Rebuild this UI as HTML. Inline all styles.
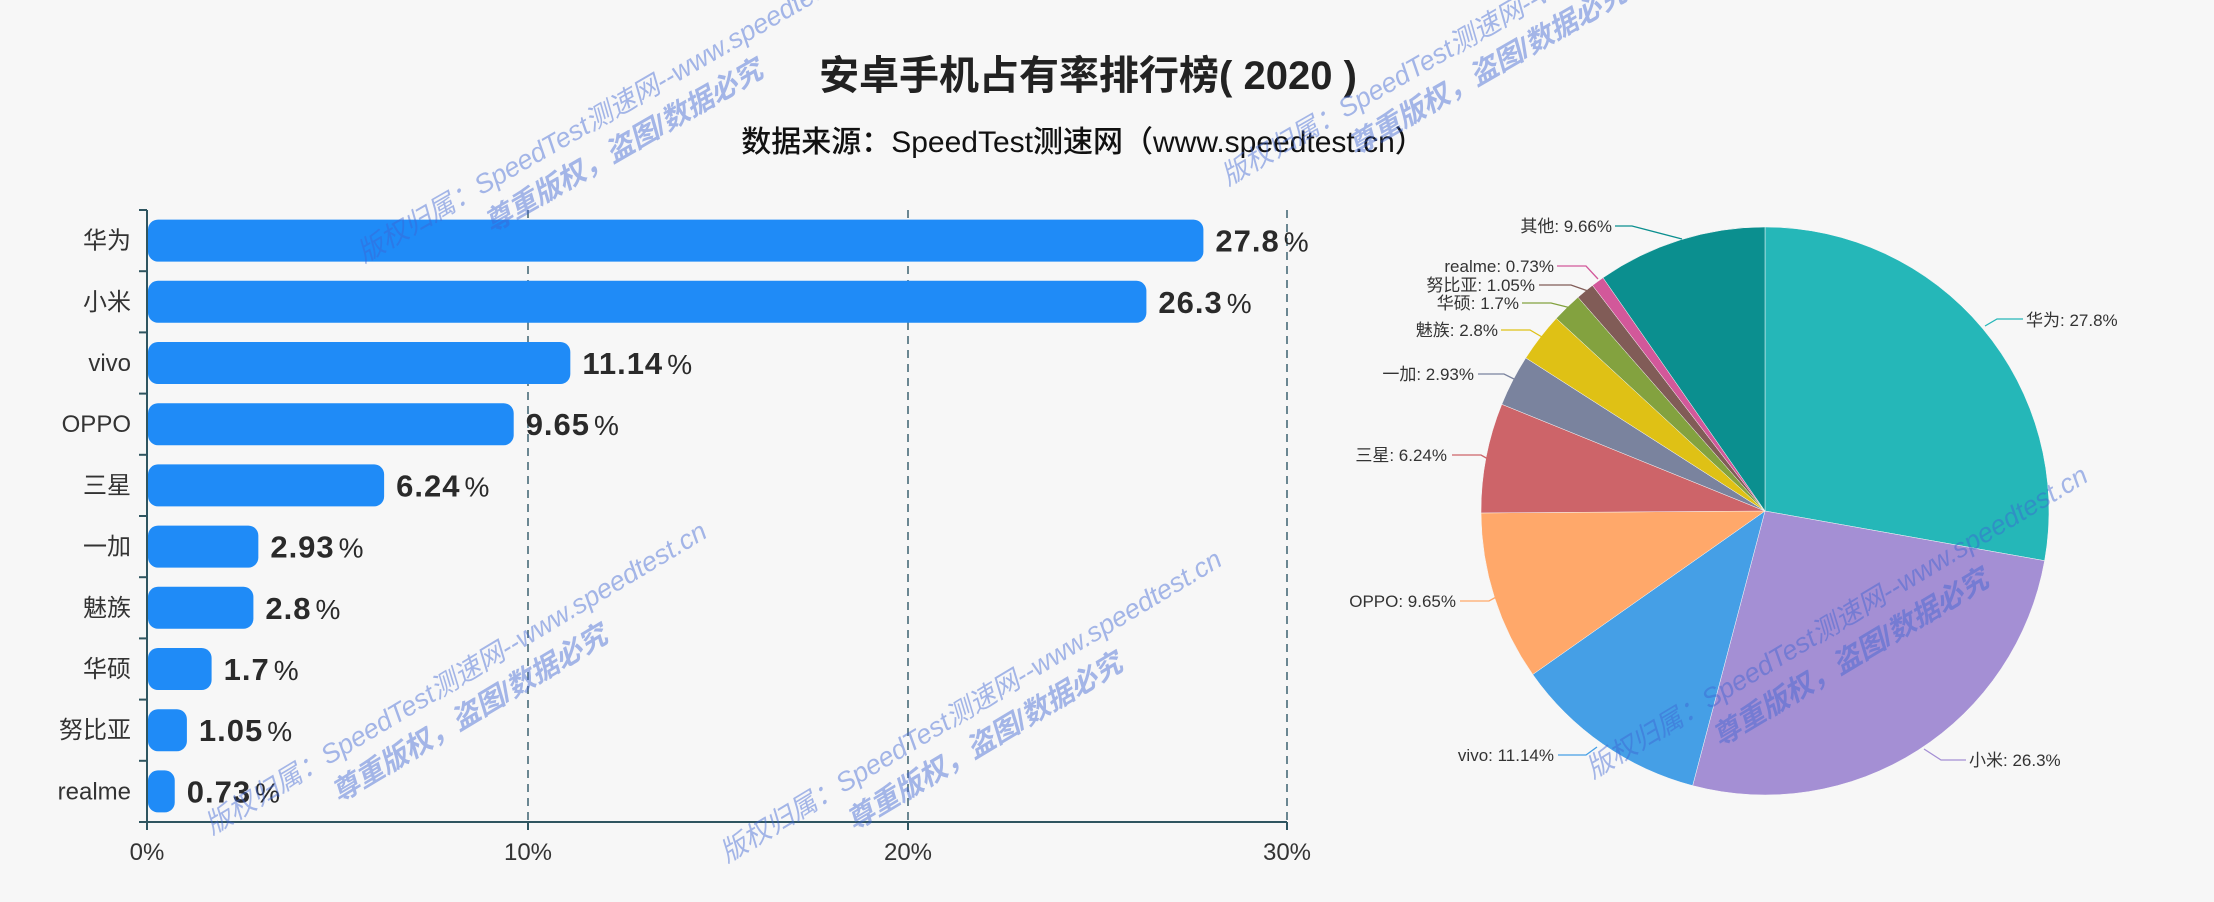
<!DOCTYPE html>
<html><head><meta charset="utf-8"><style>
html,body{margin:0;padding:0;background:#f7f7f7;}
svg{display:block;font-family:"Liberation Sans","Noto Sans CJK SC",sans-serif;}
</style></head><body>
<svg id="s" width="2214" height="902" viewBox="0 0 2214 902" xmlns="http://www.w3.org/2000/svg">
<rect width="2214" height="902" fill="#f7f7f7"/>
<text x="1088" y="89" text-anchor="middle" font-size="40" font-weight="bold" fill="#222">安卓手机占有率排行榜( 2020 )</text>
<text x="1083" y="152" text-anchor="middle" font-size="30" font-weight="500" fill="#111">数据来源：SpeedTest测速网（www.speedtest.cn）</text>
<g stroke="#3d6270" stroke-width="1.5" stroke-dasharray="8,6">
<line x1="528" y1="210" x2="528" y2="822"/>
<line x1="908" y1="210" x2="908" y2="822"/>
<line x1="1287" y1="210" x2="1287" y2="822"/>
</g>
<g id="bars"></g>
<g stroke="#2f5560" stroke-width="2">
<line x1="147" y1="210" x2="147" y2="822"/>
<line x1="147" y1="822" x2="1287" y2="822"/>
<line x1="147" y1="822" x2="147" y2="830"/><line x1="528" y1="822" x2="528" y2="830"/>
<line x1="908" y1="822" x2="908" y2="830"/><line x1="1287" y1="822" x2="1287" y2="830"/>
</g>
<g font-size="24" fill="#333" text-anchor="middle">
<text x="147" y="860">0%</text><text x="528" y="860">10%</text><text x="908" y="860">20%</text><text x="1287" y="860">30%</text>
</g>
<g id="pie"></g>
<g fill="none" stroke-width="1.3">
<polyline stroke="#0b8f8f" points="1615,226 1632,226 1682,239"/>
<polyline stroke="#d2589a" points="1557,266 1586,266 1598,279"/>
<polyline stroke="#815c57" points="1539,285 1571,285 1588,291"/>
<polyline stroke="#83a23f" points="1522,303 1551,303 1571,308"/>
<polyline stroke="#dfc115" points="1501,330 1530,330 1542,337"/>
<polyline stroke="#7a839e" points="1478,374 1504,374 1516,380"/>
<polyline stroke="#cd6469" points="1452,455 1481,455 1488,459"/>
<polyline stroke="#ffa86a" points="1460,601 1489,601 1498,596"/>
<polyline stroke="#459fe6" points="1558,755 1586,755 1597,747"/>
<polyline stroke="#a48fd4" points="1924,749 1941,760 1966,760"/>
<polyline stroke="#25b7b8" points="1985,326 1997,319 2023,319"/>
</g>
<g font-size="17" fill="#333">
<g text-anchor="end">
<text x="1612" y="232">其他: 9.66%</text>
<text x="1554" y="272">realme: 0.73%</text>
<text x="1535" y="291">努比亚: 1.05%</text>
<text x="1519" y="309">华硕: 1.7%</text>
<text x="1498" y="336">魅族: 2.8%</text>
<text x="1474" y="380">一加: 2.93%</text>
<text x="1447" y="461">三星: 6.24%</text>
<text x="1456" y="607">OPPO: 9.65%</text>
<text x="1554" y="761">vivo: 11.14%</text>
</g>
<text x="1969" y="766">小米: 26.3%</text>
<text x="2026" y="326">华为: 27.8%</text>
</g>
<g id="wm" fill="rgba(60,100,210,0.45)" font-style="italic" font-size="27"></g>
</svg>
<script>
var ns="http://www.w3.org/2000/svg";
function el(t,a,p,txt){var e=document.createElementNS(ns,t);for(var k in a)e.setAttribute(k,a[k]);if(txt!=null)e.textContent=txt;p.appendChild(e);return e;}
var cats=["华为","小米","vivo","OPPO","三星","一加","魅族","华硕","努比亚","realme"];
var vals=[27.8,26.3,11.14,9.65,6.24,2.93,2.8,1.7,1.05,0.73];
var bars=document.getElementById("bars");
for(var i=0;i<10;i++){
 var cy=240.6+61.2*i, w=vals[i]*38;
 el("rect",{x:148,y:cy-21,width:w-1,height:42,rx:10,ry:10,fill:"#1f8bf7"},bars);
 el("text",{x:131,y:cy+8,"text-anchor":"end","font-size":24,fill:"#333"},bars,cats[i]);
 var t=el("text",{x:147+w+12,y:cy+11,"font-size":31,fill:"#2a2a2a","font-weight":"bold","letter-spacing":"1"},bars,String(vals[i]));
 el("tspan",{dx:4,"font-size":28,"font-weight":"normal"},t,"%");
 el("line",{x1:139,y1:210+61.2*i,x2:147,y2:210+61.2*i,stroke:"#2f5560","stroke-width":2},bars);
}
el("line",{x1:139,y1:822,x2:147,y2:822,stroke:"#2f5560","stroke-width":2},bars);
var pv=[27.8,26.3,11.14,9.65,6.24,2.93,2.8,1.7,1.05,0.73,9.66];
var pc=["#25b7b8","#a48fd4","#459fe6","#ffa86a","#cd6469","#7a839e","#dfc115","#83a23f","#815c57","#d2589a","#0b8f8f"];
var pie=document.getElementById("pie"),cx=1765,cyy=511,r=284,a=0;
for(var j=0;j<pv.length;j++){
 var a0=a,a1=a+pv[j]/100*2*Math.PI;a=a1;
 var x0=cx+r*Math.sin(a0),y0=cyy-r*Math.cos(a0),x1=cx+r*Math.sin(a1),y1=cyy-r*Math.cos(a1);
 var lg=(a1-a0)>Math.PI?1:0;
 el("path",{d:"M"+cx+","+cyy+"L"+x0+","+y0+"A"+r+","+r+" 0 "+lg+" 1 "+x1+","+y1+"Z",fill:pc[j],stroke:"#f7f7f7","stroke-width":0.5},pie);
}
var wm=document.getElementById("wm");
var marks=[[364,263,-30],[1228,186,-30],[212,835,-31],[727,863,-31],[1593,779,-31]];
marks.forEach(function(m){
 var g=el("g",{transform:"translate("+m[0]+","+m[1]+") rotate("+m[2]+")"},wm);
 el("text",{x:0,y:0},g,"版权归属：SpeedTest测速网--www.speedtest.cn");
 el("text",{x:125,y:38,"font-weight":"bold","font-size":28},g,"尊重版权，盗图/数据必究");
});
</script>
</body></html>
